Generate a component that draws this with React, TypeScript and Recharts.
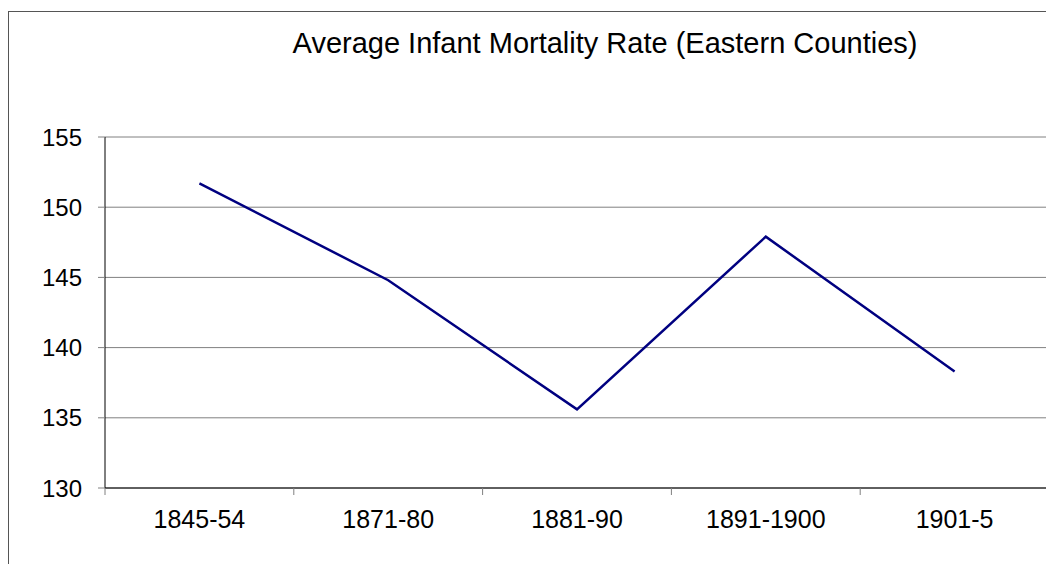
import { LineChart, Line, XAxis, YAxis, CartesianGrid } from "recharts";

const periods = ["1845-54", "1871-80", "1881-90", "1891-1900", "1901-5"];
const mortality = [151.7, 144.8, 135.6, 147.9, 138.3];
const yTicks = [130, 135, 140, 145, 150, 155];

const chartData = periods.map((period, i) => ({ period, rate: mortality[i] }));

const FONT = "'Liberation Sans', Arial, sans-serif";
const W = 1046;
const H = 556;
const MARGIN = { top: 129, right: 5, bottom: 36, left: 37 };
const Y_AXIS_W = 60;
const BAND = (W - MARGIN.left - MARGIN.right - Y_AXIS_W) / periods.length;

// label centered on the category, tick mark on the boundary between categories
const PeriodTick = (props: any) => {
  const { x, y, payload, index } = props;
  const axisY = y - 23;
  const left = x - BAND / 2;
  const right = x + BAND / 2;
  return (
    <g>
      <line x1={left} x2={left} y1={axisY} y2={axisY + 7} stroke="#808080" />
      {index === periods.length - 1 && (
        <line x1={right} x2={right} y1={axisY} y2={axisY + 7} stroke="#808080" />
      )}
      <text
        x={x}
        y={y + 17}
        textAnchor="middle"
        fill="#000"
        fontSize={25}
        fontFamily={FONT}
      >
        {payload.value}
      </text>
    </g>
  );
};

export default function App() {
  return (
    <div style={{ position: "relative", width: W, height: H, overflow: "visible" }}>
      <div
        style={{
          position: "absolute",
          left: 0,
          top: 3,
          width: W + 20,
          height: H + 20,
          borderTop: "1px solid #555",
          borderLeft: "1px solid #555",
        }}
      />
      <div style={{ position: "absolute", left: 0, top: 0 }}>
        <LineChart width={W} height={H} data={chartData} margin={MARGIN}>
          <text
            x={597}
            y={45}
            textAnchor="middle"
            fontSize={29}
            fontFamily={FONT}
            fill="#000"
          >
            Average Infant Mortality Rate (Eastern Counties)
          </text>
          <CartesianGrid vertical={false} stroke="#808080" />
          <XAxis
            dataKey="period"
            scale="band"
            height={40}
            axisLine={{ stroke: "#000" }}
            tickLine={false}
            tickSize={7}
            tickMargin={16}
            interval={0}
            tick={<PeriodTick />}
          />
          <YAxis
            width={Y_AXIS_W}
            domain={[130, 155]}
            ticks={yTicks}
            interval={0}
            axisLine={{ stroke: "#000" }}
            tickLine={{ stroke: "#808080" }}
            tickSize={7}
            tickMargin={16}
            tick={{ fill: "#000", fontSize: 24, fontFamily: FONT }}
          />
          <Line
            type="linear"
            dataKey="rate"
            stroke="#000080"
            strokeWidth={2.5}
            dot={false}
            activeDot={false}
            isAnimationActive={false}
          />
        </LineChart>
      </div>
    </div>
  );
}
